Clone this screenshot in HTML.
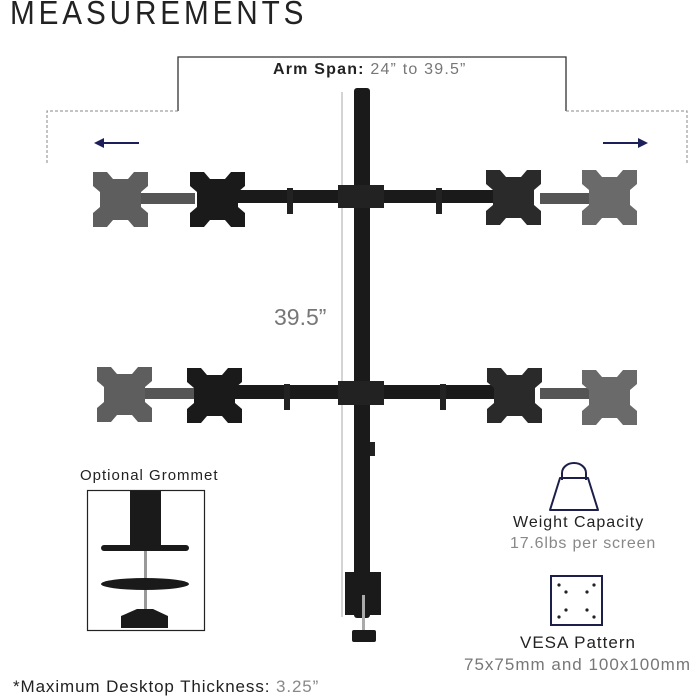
<!DOCTYPE html>
<html><head><style>
body{margin:0;width:700px;height:700px;background:#fff;overflow:hidden;position:relative;font-family:"Liberation Sans",sans-serif}
.t{position:absolute;white-space:nowrap}
</style></head><body>
<div class="t" style="left:10px;top:-6px;font-size:33px;letter-spacing:4.3px;color:#222;font-weight:300;transform:scaleX(0.9);transform-origin:left">MEASUREMENTS</div>
<svg width="700" height="700" style="position:absolute;left:0;top:0">
<defs>
<polygon id="pl" points="0,0 14,0 20,7 35,7 41,0 55,0 55,14 48,20 48,35 55,41 55,55 41,55 35,48 20,48 14,55 0,55 0,41 7,35 7,20 0,14"/>
</defs>
<polyline points="178,111 178,57 566,57 566,111" fill="none" stroke="#333" stroke-width="1.3"/>
<polyline points="178,111 47,111 47,165" fill="none" stroke="#888" stroke-width="1" stroke-dasharray="3,2"/>
<polyline points="566,111 687,111 687,165" fill="none" stroke="#888" stroke-width="1" stroke-dasharray="3,2"/>
<line x1="102" y1="143" x2="139" y2="143" stroke="#1c1f5a" stroke-width="2"/>
<polygon points="94,143 104,138 104,148" fill="#1c1f5a"/>
<line x1="603" y1="143" x2="640" y2="143" stroke="#1c1f5a" stroke-width="2"/>
<polygon points="648,143 638,138 638,148" fill="#1c1f5a"/>
<line x1="342" y1="92" x2="342" y2="617" stroke="#aaa" stroke-width="1"/>
<rect x="140" y="193" width="55" height="11" fill="#555"/>
<rect x="540" y="193" width="50" height="11" fill="#555"/>
<rect x="235" y="190" width="270" height="13" fill="#1a1a1a"/>
<rect x="287" y="188" width="6" height="26" fill="#222"/>
<rect x="436" y="188" width="6" height="26" fill="#222"/>
<rect x="145" y="388" width="50" height="11" fill="#555"/>
<rect x="540" y="388" width="50" height="11" fill="#555"/>
<rect x="235" y="385" width="270" height="14" fill="#1a1a1a"/>
<rect x="284" y="384" width="6" height="26" fill="#222"/>
<rect x="440" y="384" width="6" height="26" fill="#222"/>
<rect x="354" y="88" width="16" height="530" rx="3" fill="#1a1a1a"/>
<rect x="338" y="185" width="46" height="23" fill="#222"/>
<rect x="338" y="381" width="46" height="24" fill="#222"/>
<rect x="370" y="442" width="5" height="14" fill="#222"/>
<use href="#pl" x="93" y="172" fill="#5e5e5e"/>
<use href="#pl" x="190" y="172" fill="#1a1a1a"/>
<use href="#pl" x="486" y="170" fill="#2a2a2a"/>
<use href="#pl" x="582" y="170" fill="#6a6a6a"/>
<use href="#pl" x="97" y="367" fill="#5e5e5e"/>
<use href="#pl" x="187" y="368" fill="#1a1a1a"/>
<use href="#pl" x="487" y="368" fill="#2a2a2a"/>
<use href="#pl" x="582" y="370" fill="#6a6a6a"/>
<rect x="345" y="572" width="36" height="43" fill="#1a1a1a"/>
<rect x="362" y="595" width="3" height="36" fill="#aaa"/>
<rect x="352" y="630" width="24" height="12" rx="2" fill="#1a1a1a"/>
<rect x="87.5" y="490.5" width="117" height="140" fill="#fff" stroke="#222" stroke-width="1.2"/>
<rect x="130" y="491" width="31" height="56" fill="#1a1a1a"/>
<rect x="101" y="545" width="88" height="6" rx="3" fill="#1a1a1a"/>
<rect x="144" y="551" width="3" height="58" fill="#999"/>
<ellipse cx="145" cy="584" rx="44" ry="6" fill="#1a1a1a"/>
<path d="M121 628 v-12 l16 -7 h16 l15 7 v12 z" fill="#1a1a1a"/>
<path d="M562 480 v-7 a12 10 0 0 1 24 0 v7" fill="none" stroke="#1c1f4a" stroke-width="2"/>
<path d="M560 478 h28 l10 32 h-48 z" fill="none" stroke="#1c1f4a" stroke-width="2" stroke-linejoin="round"/>
<rect x="551" y="576" width="51" height="49" fill="none" stroke="#1c1f4a" stroke-width="2"/>
<g fill="#222"><circle cx="559" cy="585" r="1.6"/><circle cx="594" cy="585" r="1.6"/><circle cx="566" cy="592" r="1.6"/><circle cx="587" cy="592" r="1.6"/><circle cx="566" cy="610" r="1.6"/><circle cx="587" cy="610" r="1.6"/><circle cx="559" cy="617" r="1.6"/><circle cx="594" cy="617" r="1.6"/></g>
</svg>
<div class="t" style="left:273px;top:61px;font-size:16px;color:#222;letter-spacing:1.2px"><b style="font-weight:600">Arm Span:</b> <span style="color:#777">24” to 39.5”</span></div>
<div class="t" style="left:274px;top:304px;font-size:23px;color:#777">39.5”</div>
<div class="t" style="left:80px;top:467px;font-size:15px;color:#222;letter-spacing:1px">Optional Grommet</div>
<div class="t" style="left:513px;top:514px;font-size:16px;color:#222;letter-spacing:1px">Weight Capacity</div>
<div class="t" style="left:510px;top:535px;font-size:16px;color:#888;letter-spacing:0.8px">17.6lbs per screen</div>
<div class="t" style="left:520px;top:633px;font-size:17px;color:#222;letter-spacing:1px">VESA Pattern</div>
<div class="t" style="left:464px;top:655px;font-size:17px;color:#777;letter-spacing:1px">75x75mm and 100x100mm</div>
<div class="t" style="left:13px;top:677px;font-size:17px;color:#222;letter-spacing:0.9px">*Maximum Desktop Thickness: <span style="color:#888">3.25”</span></div>
</body></html>
